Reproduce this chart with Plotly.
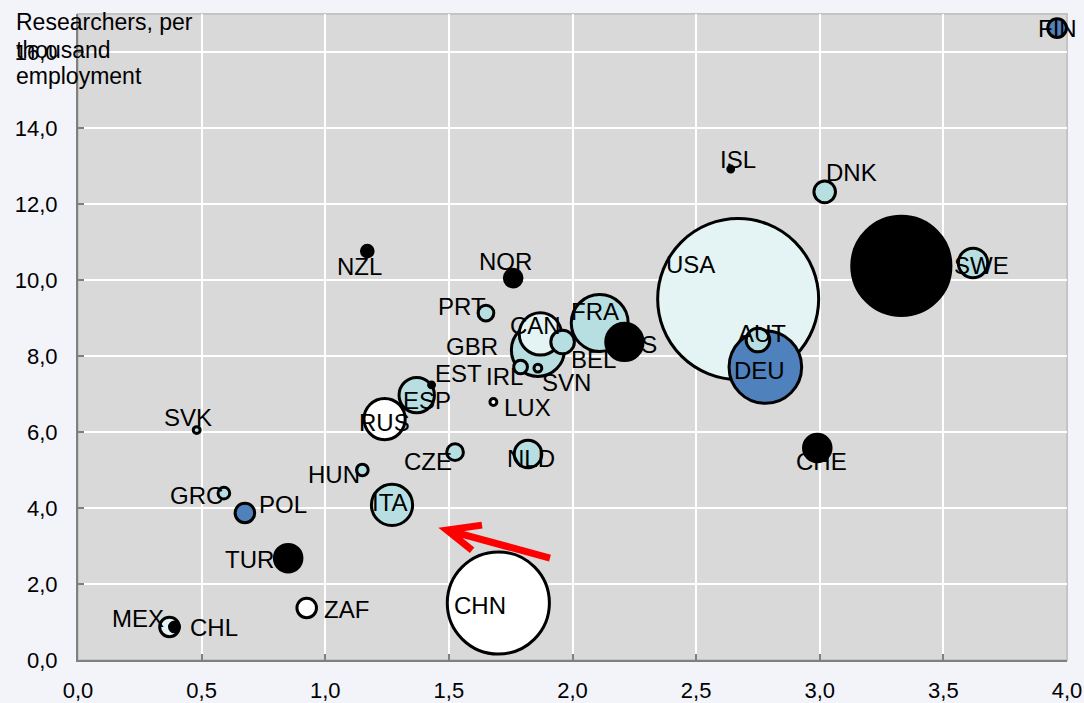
import numpy as np
import plotly.graph_objects as go

# ---------------- data ----------------
countries = ["FIN", "ISL", "DNK", "NZL", "NOR", "USA", "JPN", "SWE", "PRT", "FRA",
             "CAN", "GBR", "BEL", "AUS", "IRL", "SVN", "LUX", "EST", "ESP", "RUS",
             "SVK", "CZE", "HUN", "NLD", "CHE", "DEU", "AUT", "GRC", "POL", "ITA",
             "TUR", "ZAF", "MEX", "CHL", "CHN"]
rd_intensity = [3.96, 2.64, 3.02, 1.17, 1.76, 2.67, 3.33, 3.62, 1.65, 2.11,
                1.87, 1.86, 1.96, 2.21, 1.79, 1.86, 1.68, 1.43, 1.37, 1.24,
                0.48, 1.525, 1.15, 1.82, 2.99, 2.78, 2.75, 0.59, 0.675, 1.27,
                0.85, 0.925, 0.37, 0.39, 1.70]
researchers = [16.63, 12.92, 12.32, 10.76, 10.05, 9.50, 10.37, 10.45, 9.13, 8.87,
               8.58, 8.16, 8.37, 8.37, 7.71, 7.68, 6.79, 7.24, 6.97, 6.34,
               6.05, 5.47, 5.00, 5.42, 5.58, 7.71, 8.42, 4.39, 3.87, 4.08,
               2.68, 1.37, 0.87, 0.87, 1.50]
gerd = [5.4, 0.53, 7.2, 2.1, 4.8, 400, 151.7, 13.4, 3.8, 50,
        27.5, 43.4, 8.6, 21.5, 2.9, 0.95, 0.73, 0.53, 19.3, 26.2,
        0.73, 4.3, 2.1, 11.7, 11.7, 81.4, 8.6, 2.1, 5.9, 26.2,
        11.7, 5.9, 5.9, 1.5, 160.9]
group = ["steel", "black", "light", "black", "black", "vlight", "black", "light", "light", "light",
         "vlight", "light", "light", "black", "light", "light", "white", "black", "light", "white",
         "light", "light", "light", "light", "black", "steel", "light", "light", "steel", "light",
         "black", "white", "vlight", "black", "white"]

x_ticks = [0.0, 0.5, 1.0, 1.5, 2.0, 2.5, 3.0, 3.5, 4.0]
y_ticks = [0, 2, 4, 6, 8, 10, 12, 14, 16]
y_title_lines = ["Researchers, per", "thousand", "employment"]

# ---------------- styles ----------------
palette = {"steel": "#4f81bd", "black": "#000000", "light": "#b7dfe2",
           "vlight": "#e4f4f4", "white": "#ffffff"}
# label offsets in pixels (dx right, dy down)
label_offsets = {
    "FIN": (0, 0), "ISL": (7, -10), "DNK": (27, -19), "NZL": (-8, 15), "NOR": (-8, -17),
    "USA": (-48, -35), "JPN": (0, 0), "SWE": (8, 3), "PRT": (-24, -7), "FRA": (-5, -11),
    "CAN": (-5, -8), "GBR": (-66, -3), "BEL": (31, 18), "AUS": (8, 3), "IRL": (-16, 9),
    "SVN": (29, 14), "LUX": (34, 6), "EST": (27, -11), "ESP": (10, 5), "RUS": (0, 3),
    "SVK": (-9, -13), "CZE": (-27, 9), "HUN": (-28, 4), "NLD": (3, 4), "CHE": (4, 14),
    "DEU": (-6, 3), "AUT": (4, -7), "GRC": (-27, 2), "POL": (38, -8), "ITA": (-2, -2),
    "TUR": (-39, 1), "ZAF": (40, 2), "MEX": (-31, -8), "CHL": (40, 1), "CHN": (-18, 2),
}
title_line_offsets = [8, 36, 62]  # px below plot top
FONT = "Liberation Sans, Arial, sans-serif"
max_diam = 161

order = np.argsort(-np.array(gerd), kind="stable")
xs = [rd_intensity[i] for i in order]
ys = [researchers[i] for i in order]
ss = [gerd[i] for i in order]
cs = [palette[group[i]] for i in order]
names = [countries[i] for i in order]

sizeref = 2.0 * max(gerd) / (max_diam ** 2)

fig = go.Figure()
fig.add_trace(go.Scatter(
    x=xs, y=ys, mode="markers", text=names, hoverinfo="text",
    marker=dict(size=ss, sizemode="area", sizeref=sizeref, sizemin=0,
                color=cs, opacity=1, line=dict(color="#000000", width=3)),
    cliponaxis=False, showlegend=False,
))

annotations = []
for c, xv, yv in zip(countries, rd_intensity, researchers):
    dx, dy = label_offsets[c]
    annotations.append(dict(x=xv, y=yv, xref="x", yref="y", text=c, showarrow=False,
                            xshift=dx, yshift=-dy, font=dict(family=FONT, size=24, color="#000000")))

# y axis title (three lines, top-left)
for line, off in zip(y_title_lines, title_line_offsets):
    annotations.append(dict(xref="paper", yref="paper", x=-0.0647, y=1 - off / 646,
                            xanchor="left", yanchor="middle", text=line, showarrow=False,
                            font=dict(family=FONT, size=23, color="#000000")))

shapes = [
    dict(type="rect", xref="paper", yref="paper", x0=0, x1=1, y0=0, y1=1,
         line=dict(color="#c4c4c4", width=2), layer="between"),
    # red arrow
    dict(type="path", xref="x", yref="y",
         path="M 1.909,2.68 L 1.492,3.42 M 1.634,3.55 L 1.492,3.42 L 1.594,2.89",
         line=dict(color="#ff0000", width=7), layer="above"),
]

fig.update_layout(
    width=1084, height=703,
    margin=dict(l=78, r=17, t=14, b=43, autoexpand=False),
    paper_bgcolor="#f3f3fa", plot_bgcolor="#d9d9d9",
    separators=", ",
    font=dict(family=FONT, size=22, color="#000000"),
    annotations=annotations, shapes=shapes,
    xaxis=dict(range=[0, 4], tickvals=x_ticks, tickformat=".1f", showgrid=True,
               gridcolor="#ffffff", gridwidth=2, zeroline=False, showline=True,
               linecolor="#808080", linewidth=2, ticks="inside", ticklen=6,
               tickcolor="#808080", tickwidth=1.5, ticklabelstandoff=10,
               automargin=False, tickfont=dict(family=FONT, size=22)),
    yaxis=dict(range=[0, 17], tickvals=y_ticks, tickformat=".1f", showgrid=True,
               gridcolor="#ffffff", gridwidth=2, zeroline=False, showline=True,
               linecolor="#808080", linewidth=2, ticks="inside", ticklen=6,
               tickcolor="#808080", tickwidth=1.5, ticklabelstandoff=14,
               automargin=False, tickfont=dict(family=FONT, size=22)),
)

fig.write_html("out.html",
               config={"displayModeBar": False},
               post_script="document.body.style.margin='0';document.body.style.overflow='hidden';")
